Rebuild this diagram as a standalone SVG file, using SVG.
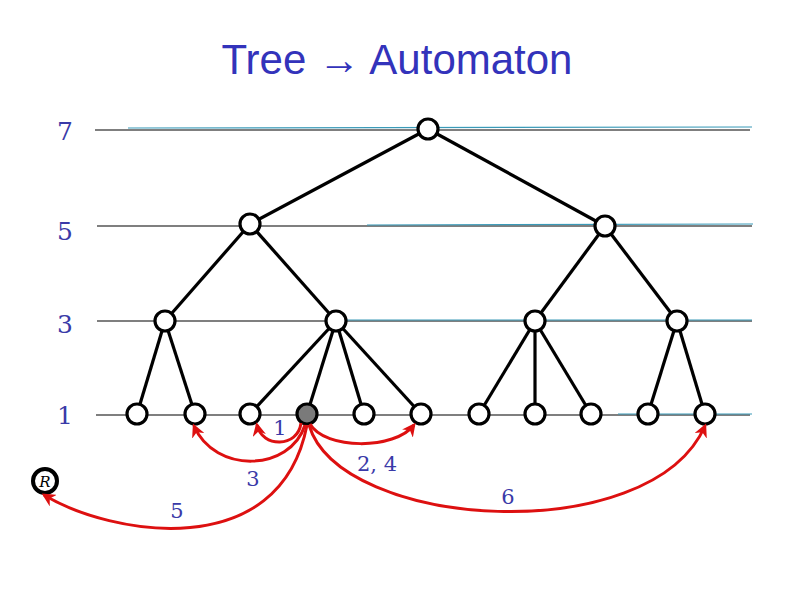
<svg xmlns="http://www.w3.org/2000/svg" width="794" height="595" viewBox="0 0 794 595">
<style>
.lvl{font-family:"DejaVu Serif","Liberation Serif",serif;font-size:25px;fill:#3a3aa8}
.lab{font-family:"DejaVu Serif","Liberation Serif",serif;font-size:21px;fill:#3a3aa8}
.hl{stroke:#000;stroke-width:1.2}
.tl{stroke:#3a9ab8;stroke-width:1.2}
.e{stroke:#000;stroke-width:3.2;fill:none}
.n{fill:#fff;stroke:#000;stroke-width:3.2}
.a{stroke:#dd1010;stroke-width:3;fill:none;marker-end:url(#ah)}
</style>
<defs>
<marker id="ah" viewBox="0 0 10 10" refX="8" refY="5" markerWidth="4.5" markerHeight="4.5" orient="auto" markerUnits="strokeWidth">
<path d="M0,0 L10,5 L0,10 L3,5 z" fill="#dd1010"/>
</marker>
</defs>
<rect width="794" height="595" fill="#fff"/>
<text x="397" y="74" text-anchor="middle" font-family="'Liberation Sans',Arial,sans-serif" font-size="42" fill="#3333bb">Tree → Automaton</text>
<g id="levels">
<line class="hl" x1="95" y1="130" x2="750" y2="130"/>
<line class="tl" x1="128" y1="128" x2="752" y2="127"/>
<line class="hl" x1="97" y1="226" x2="752" y2="226"/>
<line class="tl" x1="367" y1="225" x2="753" y2="224"/>
<line class="hl" x1="97" y1="321" x2="752" y2="321"/>
<line class="tl" x1="336" y1="320" x2="752" y2="320"/>
<line class="hl" x1="96" y1="415" x2="750" y2="415"/>
<line class="tl" x1="618" y1="414" x2="752" y2="414"/>
<text class="lvl" x="65" y="140" text-anchor="middle">7</text>
<text class="lvl" x="65" y="240" text-anchor="middle">5</text>
<text class="lvl" x="65" y="333" text-anchor="middle">3</text>
<text class="lvl" x="65" y="424" text-anchor="middle">1</text>
</g>
<g id="edges">
<line class="e" x1="428" y1="129" x2="250" y2="224"/>
<line class="e" x1="428" y1="129" x2="605" y2="226"/>
<line class="e" x1="250" y1="224" x2="165" y2="321"/>
<line class="e" x1="250" y1="224" x2="336" y2="321"/>
<line class="e" x1="605" y1="226" x2="535" y2="321"/>
<line class="e" x1="605" y1="226" x2="677" y2="321"/>
<line class="e" x1="165" y1="321" x2="137" y2="414"/>
<line class="e" x1="165" y1="321" x2="195" y2="414"/>
<line class="e" x1="336" y1="321" x2="250" y2="414"/>
<line class="e" x1="336" y1="321" x2="307" y2="414"/>
<line class="e" x1="336" y1="321" x2="364" y2="414"/>
<line class="e" x1="336" y1="321" x2="421" y2="414"/>
<line class="e" x1="535" y1="321" x2="479" y2="414"/>
<line class="e" x1="535" y1="321" x2="535" y2="414"/>
<line class="e" x1="535" y1="321" x2="591" y2="414"/>
<line class="e" x1="677" y1="321" x2="648" y2="414"/>
<line class="e" x1="677" y1="321" x2="705" y2="414"/>
</g>
<g id="nodes">
<circle id="n7" class="n" cx="428" cy="129" r="10"/>
<circle id="n5a" class="n" cx="250" cy="224" r="10"/>
<circle id="n5b" class="n" cx="605" cy="226" r="10"/>
<circle id="n3a" class="n" cx="165" cy="321" r="10"/>
<circle id="n3b" class="n" cx="336" cy="321" r="10"/>
<circle id="n3c" class="n" cx="535" cy="321" r="10"/>
<circle id="n3d" class="n" cx="677" cy="321" r="10"/>
<circle id="l1" class="n" cx="137" cy="414" r="10"/>
<circle id="l2" class="n" cx="195" cy="414" r="10"/>
<circle id="l3" class="n" cx="250" cy="414" r="10"/>
<circle id="l4" class="n" cx="307" cy="414" r="10" style="fill:#7a7a7a"/>
<circle id="l5" class="n" cx="364" cy="414" r="10"/>
<circle id="l6" class="n" cx="421" cy="414" r="10"/>
<circle id="l7" class="n" cx="479" cy="414" r="10"/>
<circle id="l8" class="n" cx="535" cy="414" r="10"/>
<circle id="l9" class="n" cx="591" cy="414" r="10"/>
<circle id="l10" class="n" cx="648" cy="414" r="10"/>
<circle id="l11" class="n" cx="705" cy="414" r="10"/>
<g id="R">
<circle cx="45" cy="481" r="12" fill="#fff" stroke="#000" stroke-width="4"/>
<text x="45" y="487" text-anchor="middle" font-family="'DejaVu Serif','Liberation Serif',serif" font-style="italic" font-size="15" fill="#000">R</text>
</g>
</g>
<g id="connectors">
<path class="a" d="M301,423 C298,448 262,448 257,425"/>
<path class="a" d="M305,425 C290,472 215,474 194,426"/>
<path class="a" d="M310,424 C325,450 395,450 414,425"/>
<path class="a" d="M309,425 C340,530 650,550 705,426"/>
<path class="a" d="M307,425 C280,565 110,535 44,495"/>
</g>
<g id="labels">
<text class="lab" x="280" y="435" text-anchor="middle">1</text>
<text class="lab" x="253" y="486" text-anchor="middle">3</text>
<text class="lab" x="377" y="471" text-anchor="middle">2, 4</text>
<text class="lab" x="508" y="504" text-anchor="middle">6</text>
<text class="lab" x="177" y="518" text-anchor="middle">5</text>
</g>
</svg>
